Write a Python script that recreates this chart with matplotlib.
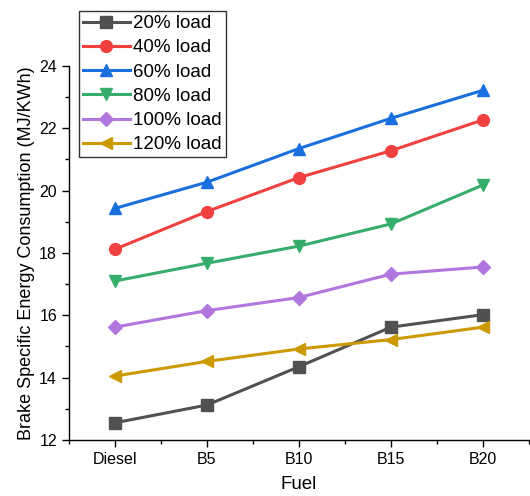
import numpy as np
import matplotlib.pyplot as plt
from matplotlib.ticker import MultipleLocator

plt.rcParams['font.family'] = ['Liberation Sans', 'DejaVu Sans']

# Data
fuels = ["Diesel", "B5", "B10", "B15", "B20"]
load_20 = [12.55, 13.12, 14.35, 15.62, 16.02]
load_40 = [18.12, 19.33, 20.42, 21.28, 22.27]
load_60 = [19.43, 20.27, 21.35, 22.32, 23.22]
load_80 = [17.10, 17.67, 18.22, 18.93, 20.18]
load_100 = [15.62, 16.15, 16.57, 17.32, 17.55]
load_120 = [14.05, 14.52, 14.92, 15.22, 15.62]

series = [
    ("20% load", load_20, "#515151", "s"),
    ("40% load", load_40, "#F14040", "o"),
    ("60% load", load_60, "#1A6FDF", "^"),
    ("80% load", load_80, "#37AD6B", "v"),
    ("100% load", load_100, "#B177DE", "D"),
    ("120% load", load_120, "#CC9900", "<"),
]

fig = plt.figure(figsize=(5.30, 4.96), dpi=100)
ax = fig.add_axes([0.130, 0.113, 0.868, 0.754])

x = np.arange(1, len(fuels) + 1)
for label, vals, color, marker in series:
    ms = 7 if marker == "D" else 8.5
    ax.plot(x, vals, color=color, marker=marker, markersize=ms,
            linewidth=2.2, label=label)

ax.set_xlim(0.5, 5.5)
ax.set_ylim(12, 24)
ax.set_xticks(x)
ax.set_xticklabels(fuels)
ax.xaxis.set_minor_locator(MultipleLocator(0.5))
ax.yaxis.set_major_locator(MultipleLocator(2))
ax.yaxis.set_minor_locator(MultipleLocator(1))
ax.tick_params(axis="both", which="major", direction="out", length=5, width=1, labelsize=11.5)
ax.tick_params(axis="both", which="minor", direction="out", length=3, width=1)
ax.spines["top"].set_visible(False)
ax.spines["right"].set_visible(False)
ax.spines["left"].set_linewidth(1)
ax.spines["bottom"].set_linewidth(1)

ax.set_xlabel("Fuel", fontsize=13.5, labelpad=7)
ax.set_ylabel("Brake Specific Energy Consumption (MJ/KWh)", fontsize=13, labelpad=3)

leg = ax.legend(loc="upper left", bbox_to_anchor=(0.022, 1.146), fontsize=13.5,
                frameon=True, fancybox=False, edgecolor="black",
                handlelength=2.5, handletextpad=0.2, labelspacing=0.38,
                borderpad=0.2, borderaxespad=0)
leg.get_frame().set_linewidth(1)

fig.savefig("out.png", dpi=100)
